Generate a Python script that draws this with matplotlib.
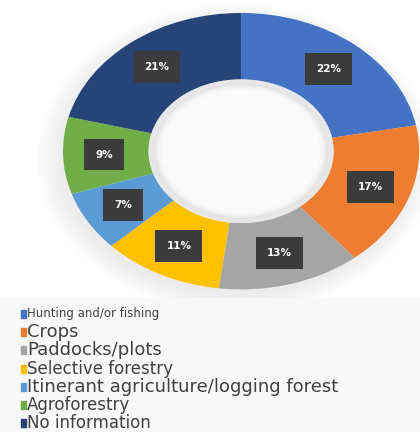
import matplotlib.pyplot as plt
from matplotlib.patches import Ellipse, Rectangle

# data
categories = ["Hunting and/or fishing", "Crops", "Paddocks/plots", "Selective forestry",
              "Itinerant agriculture/logging forest", "Agroforestry", "No information"]
shares = [22, 17, 13, 11, 7, 9, 21]
colors = ["#4472C4", "#ED7D31", "#A5A5A5", "#FFC000", "#5B9BD5", "#70AD47", "#264478"]
legend_sizes = [8.5, 13, 13, 12, 13, 12, 12]

fig = plt.figure(figsize=(4.2, 4.32), dpi=100)
fig.patch.set_facecolor("white")
fig.patches.append(Rectangle((0, 0), 1, 0.31, transform=fig.transFigure,
                             color="#f8f8f8", zorder=0))

ax = fig.add_axes([0.15, 0.33, 0.848, 0.64])

# soft shadow behind the ring
for i in range(8):
    ax.add_patch(Ellipse((-0.03, -0.05), 1.98 + i * 0.035, 1.98 + i * 0.035,
                         color="#d0d0d0", alpha=0.05, lw=0, zorder=0, clip_on=False))

wedges, texts = ax.pie(shares, colors=colors, startangle=90, counterclock=False,
                       labels=[f"{s}%" for s in shares], labeldistance=0.77,
                       wedgeprops=dict(width=0.48, linewidth=0),
                       textprops=dict(color="white", fontsize=7.5, fontweight="bold"))
for t in texts:
    t.set_ha("center")
    t.set_va("center")
    t.set_bbox(dict(boxstyle="square,pad=1.05", fc="#3b3b3b", ec="none"))
    t.set_zorder(5)

# shaded hole
for i in range(6):
    ax.add_patch(Ellipse((0, 0), 1.04 - i * 0.03, 1.04 - i * 0.03,
                         color="#e4e4e4" if i < 3 else "white", alpha=0.45, lw=0, zorder=3))
ax.set_aspect("auto")
ax.set_xlim(-1, 1)
ax.set_ylim(-1, 1)
ax.axis("off")

# legend
y0 = 314
step = 18.2
for i, (cat, col, fs) in enumerate(zip(categories, colors, legend_sizes)):
    y = 1 - (y0 + i * step) / 432
    fig.patches.append(Rectangle((21 / 420, y - 4 / 432), 5 / 420, 8 / 432,
                                 transform=fig.transFigure, color=col, zorder=2))
    fig.text(27 / 420, y, cat, fontsize=fs, color="#404040", va="center", ha="left",
             family="DejaVu Sans")

fig.savefig("out.png", dpi=100)
